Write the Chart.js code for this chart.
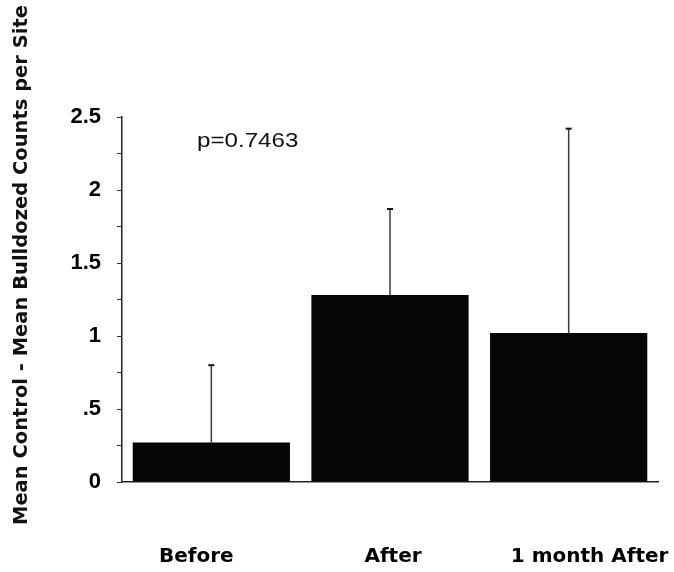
<!DOCTYPE html>
<html>
<head>
<meta charset="utf-8">
<script src="https://cdn.jsdelivr.net/npm/chart.js@4"></script>
<style>
  html, body { margin: 0; padding: 0; background: #fff; }
  #wrap { width: 674px; height: 572px; }
</style>
</head>
<body>
<div id="wrap"><canvas id="diffChart"></canvas></div>
<script>
// periods and mean differences (control - bulldozed), with upper error
const periods = ['Before', 'After', '1 month After'];
const meanDiff = [0.27, 1.28, 1.02];
const errUp = [0.53, 0.59, 1.40];
const yTicks = [0, 0.5, 1, 1.5, 2, 2.5];
const yTickText = ['0', '.5', '1', '1.5', '2', '2.5'];
const pText = 'p=0.7463';
const yTitle = 'Mean Control - Mean Bulldozed Counts per Site';

// error whiskers drawn above each bar
const errorBars = {
    id: 'errorBars',
    afterDatasetsDraw(chart) {
        const ctx = chart.ctx;
        const y = chart.scales.y;
        const meta = chart.getDatasetMeta(0);
        ctx.save();
        meta.data.forEach((bar, i) => {
            const top = y.getPixelForValue(meanDiff[i] + errUp[i]);
            ctx.strokeStyle = '#3a3a3a';
            ctx.lineWidth = 1.5;
            ctx.beginPath();
            ctx.moveTo(bar.x, bar.y);
            ctx.lineTo(bar.x, top);
            ctx.stroke();
            ctx.strokeStyle = '#111';
            ctx.lineWidth = 2;
            ctx.beginPath();
            ctx.moveTo(bar.x - 3, top);
            ctx.lineTo(bar.x + 3, top);
            ctx.stroke();
        });
        ctx.restore();
    }
};

// category names sit a little wider apart than the bars
const labelShift = [-15, 3, 21];
const catLabels = {
    id: 'catLabels',
    afterDraw(chart) {
        const ctx = chart.ctx;
        const x = chart.scales.x;
        ctx.save();
        ctx.fillStyle = '#000';
        ctx.font = 'bold 20px "DejaVu Sans", sans-serif';
        ctx.textAlign = 'center';
        ctx.textBaseline = 'alphabetic';
        periods.forEach((name, i) => {
            ctx.fillText(name, x.getPixelForValue(i) + labelShift[i], 562);
        });
        ctx.restore();
    }
};

// p-value note and rotated y-axis title
const notes = {
    id: 'notes',
    afterDraw(chart) {
        const ctx = chart.ctx;
        ctx.save();
        ctx.fillStyle = '#111';
        ctx.font = '21px "Liberation Sans", Arial, sans-serif';
        ctx.textBaseline = 'alphabetic';
        ctx.textAlign = 'left';
        ctx.save();
        ctx.translate(197, 147);
        ctx.scale(1.15, 1);
        ctx.fillText(pText, 0, 0);
        ctx.restore();

        ctx.translate(22, 265);
        ctx.rotate(-Math.PI / 2);
        ctx.textAlign = 'center';
        ctx.textBaseline = 'middle';
        ctx.font = 'bold 19.5px "DejaVu Sans", sans-serif';
        ctx.fillText(yTitle, 0, 0);
        ctx.restore();
    }
};

new Chart(document.getElementById('diffChart'), {
    type: 'bar',
    data: {
        labels: periods,
        datasets: [{
            data: meanDiff,
            backgroundColor: '#050505',
            borderWidth: 0,
            barPercentage: 0.88,
            categoryPercentage: 1.0
        }]
    },
    options: {
        responsive: true,
        maintainAspectRatio: false,
        animation: false,
        layout: { padding: { top: 117, right: 16, bottom: 0, left: 0 } },
        plugins: {
            legend: { display: false },
            tooltip: { enabled: false }
        },
        scales: {
            x: {
                grid: { display: false },
                border: { display: true, color: '#222', width: 1.5 },
                ticks: { display: false },
                afterFit(scale) {
                    scale.height = 90;
                    scale.paddingLeft = 0;
                    scale.paddingRight = 0;
                }
            },
            y: {
                min: 0,
                max: 2.5,
                afterBuildTicks(scale) {
                    // minor ticks every .25, labels only on the .5 steps
                    const t = [];
                    for (let i = 0; i <= 10; i++) t.push({ value: i * 0.25 });
                    scale.ticks = t;
                },
                grid: {
                    drawOnChartArea: false,
                    drawTicks: true,
                    tickLength: 5,
                    color: '#333'
                },
                border: { display: true, color: '#222', width: 1.5 },
                ticks: {
                    color: '#000',
                    font: { family: '"Liberation Sans", Arial, sans-serif', size: 22, weight: 'bold' },
                    padding: 16,
                    callback(value) {
                        const k = yTicks.indexOf(value);
                        return k >= 0 ? yTickText[k] : '';
                    }
                },
                afterFit(scale) { scale.width = 122; }
            }
        }
    },
    plugins: [errorBars, catLabels, notes]
});
</script>
</body>
</html>
